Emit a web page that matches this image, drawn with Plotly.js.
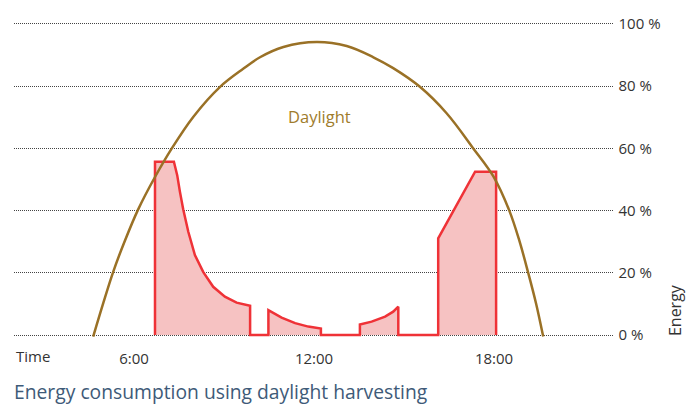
<!DOCTYPE html>
<html>
<head>
<meta charset="utf-8">
<script src="https://cdn.plot.ly/plotly-3.0.1.min.js"></script>
<style>html,body{margin:0;padding:0;background:#fff;}#chart{width:695px;height:405px;}</style>
</head>
<body>
<div id="chart"></div>
<script>
// Daylight curve (hour of day, % level)
const daylightHours = [4.64, 4.98, 5.31, 5.7, 6.14, 6.7, 7.26, 7.98, 8.87, 9.64, 10.2, 10.98, 12.09,
                       13.09, 13.98, 14.64, 15.53, 16.42, 17.31, 17.98, 18.51, 18.84, 19.14, 19.4, 19.64];
const daylightLevel = [-0.5, 10.4, 20.4, 30.4, 40.4, 50.8, 60, 70.2, 79.8, 85.6, 89.3, 92.6, 94.2,
                       92.9, 89.3, 85.8, 79.8, 71.3, 60, 51, 40, 30.5, 20, 10.2, -0.5];

// Energy consumption (hour of day, % energy)
const energyHours = [6.70, 6.70, 7.33, 7.44, 7.53, 7.64, 7.81, 8.03, 8.31, 8.64, 9.03, 9.42, 9.87, 9.87,
                     10.48, 10.48, 10.92, 11.37, 11.81, 12.23, 12.23,
                     13.53, 13.53, 13.92, 14.37, 14.64, 14.81, 14.81,
                     16.14, 16.14, 17.37, 18.07, 18.07];
const energyLevel = [0, 55.7, 55.7, 51.4, 46.1, 40.4, 33.2, 25.7, 20.2, 15.5, 12.3, 10.4, 9.4, 0,
                     0, 8.0, 5.6, 3.8, 2.7, 2.1, 0,
                     0, 3.4, 4.3, 5.9, 7.5, 9.1, 0,
                     0, 31.1, 52.5, 52.5, 0];

const xTickVals = [6, 12, 18];
const xTickText = ["6:00", "12:00", "18:00"];
const yTickVals = [0, 20, 40, 60, 80, 100];
const yTickText = ["0 %", "20 %", "40 %", "60 %", "80 %", "100 %"];

const FONT = "Open Sans, Noto Sans, sans-serif";

const traces = [
  {
    x: energyHours, y: energyLevel, type: "scatter", mode: "lines",
    line: {color: "#ef3237", width: 2.5, shape: "linear"},
    fill: "tozeroy", fillcolor: "#f6c2c2",
    hoverinfo: "skip", cliponaxis: false
  },
  {
    x: daylightHours, y: daylightLevel, type: "scatter", mode: "lines",
    line: {color: "#9a7126", width: 2.5, shape: "spline", smoothing: 1},
    hoverinfo: "skip", cliponaxis: false
  }
];

const layout = {
  width: 695, height: 405,
  margin: {l: 14, r: 81, t: 22, b: 64},
  paper_bgcolor: "#ffffff", plot_bgcolor: "#ffffff",
  showlegend: false,
  font: {family: FONT, size: 15, color: "#333333"},
  title: {
    text: "Energy consumption using daylight harvesting",
    font: {family: FONT, size: 19.3, color: "#3e5a78"},
    xref: "paper", x: 0, xanchor: "left",
    yref: "container", y: 1 - 392/405, yanchor: "middle"
  },
  xaxis: {
    range: [2, 22], showgrid: false, zeroline: false, showline: false,
    tickmode: "array", tickvals: xTickVals, ticktext: xTickText,
    ticks: "outside", ticklen: 4, tickcolor: "rgba(0,0,0,0)",
    tickfont: {family: FONT, size: 15, color: "#333333"}
  },
  yaxis: {
    range: [-1.93, 100.64], side: "right",
    tickmode: "array", tickvals: yTickVals, ticktext: yTickText,
    showgrid: true, gridcolor: "#444444", gridwidth: 1, griddash: "1px,1px",
    zeroline: false, showline: false,
    ticks: "outside", ticklen: 0.5, tickcolor: "rgba(0,0,0,0)",
    tickfont: {family: FONT, size: 15, color: "#333333"}
  },
  annotations: [
    {text: "Time", xref: "paper", yref: "paper", x: 0, y: -0.047, xanchor: "left", yanchor: "middle",
     showarrow: false, font: {family: FONT, size: 15, color: "#333333"}},
    {text: "Energy", xref: "paper", yref: "paper", x: 1.1017, y: 0.097, xanchor: "center", yanchor: "middle",
     textangle: -90, showarrow: false, font: {family: FONT, size: 16, color: "#333333"}},
    {text: "Daylight", xref: "x", yref: "y", x: 12.17, y: 70.1, xanchor: "center", yanchor: "middle",
     showarrow: false, font: {family: FONT, size: 16.5, color: "#a07c2c"}}
  ]
};

Plotly.newPlot("chart", traces, layout, {staticPlot: true, displayModeBar: false});
</script>
</body>
</html>
